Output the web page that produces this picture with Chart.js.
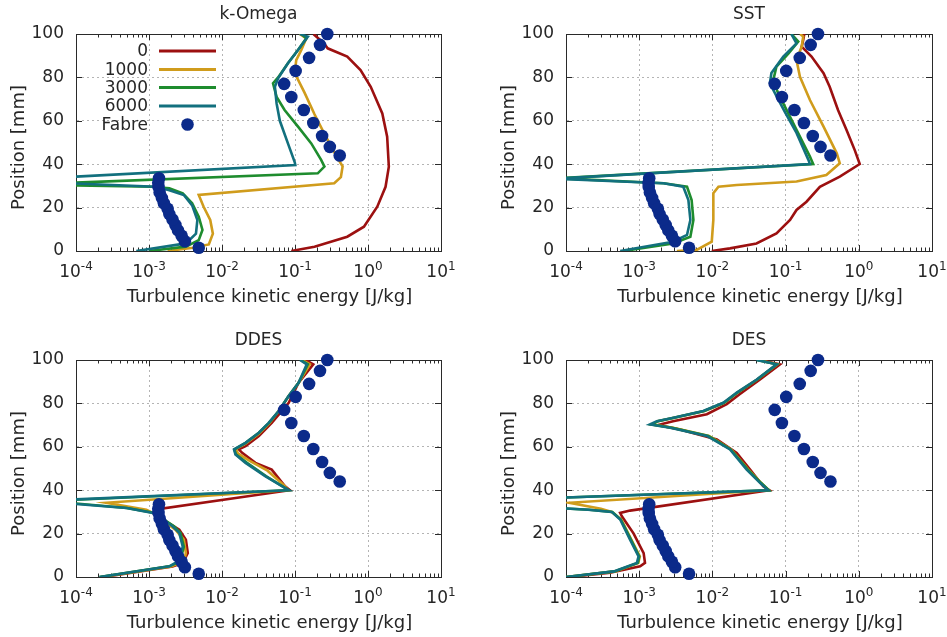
<!DOCTYPE html>
<html><head><meta charset="utf-8">
<script src="https://cdn.jsdelivr.net/npm/chart.js@4.4.1/dist/chart.umd.min.js"></script>
<style>
html,body{margin:0;padding:0;background:#fff;width:947px;height:637px;overflow:hidden}
canvas{position:absolute}
</style></head><body>
<canvas id="c1" width="473" height="318" style="left:0;top:0;width:473px;height:318px"></canvas>
<canvas id="c2" width="474" height="318" style="left:473px;top:0;width:474px;height:318px"></canvas>
<canvas id="c3" width="473" height="319" style="left:0;top:318px;width:473px;height:319px"></canvas>
<canvas id="c4" width="474" height="319" style="left:473px;top:318px;width:474px;height:319px"></canvas>
<script>
// ---------- data ----------
const panelTitles = ["k-Omega", "SST", "DDES", "DES"];
const seriesNames = ["0", "1000", "3000", "6000", "Fabre"];
const xAxisTitle = "Turbulence kinetic energy [J/kg]";
const yAxisTitle = "Position [mm]";
const xTickValues = [1e-4, 1e-3, 1e-2, 1e-1, 1e0, 1e1];
const xTickExponents = ["-4", "-3", "-2", "-1", "0", "1"];
const yTickValues = [0, 20, 40, 60, 80, 100];

// Fabre experiment
const fabreY = [1.5, 4.5, 7, 9.5, 12, 14.5, 17, 19.5, 22, 24.5, 27, 29.5, 31.5, 33.5, 44, 48, 53, 59, 65, 71, 77, 83, 89, 95, 100];
const fabreK = [0.0048, 0.0031, 0.0028, 0.0025, 0.0023, 0.0021, 0.0019, 0.0018, 0.0016, 0.0015, 0.0014, 0.00135, 0.00134, 0.00137, 0.41, 0.30, 0.235, 0.178, 0.132, 0.089, 0.071, 0.102, 0.156, 0.22, 0.277];

// k-Omega
const kwRedY = [0, 2, 6.6, 11.2, 20.4, 29.6, 38.9, 52.7, 63.4, 75.7, 83.4, 89.6, 93.4, 95.7, 99.5, 100];
const kwRedK = [0.089, 0.185, 0.52, 0.88, 1.34, 1.74, 1.93, 1.83, 1.57, 1.09, 0.79, 0.52, 0.28, 0.25, 0.185, 0.19];
const kwGoldY = [0, 1.5, 3, 8, 14.3, 20.4, 25.8, 31.2, 34, 39, 42.7, 54, 63, 73, 82, 88, 92.6, 98, 100];
const kwGoldK = [0.0018, 0.004, 0.0066, 0.0075, 0.0069, 0.0056, 0.0048, 0.345, 0.425, 0.449, 0.384, 0.253, 0.185, 0.135, 0.099, 0.104, 0.122, 0.143, 0.116];
const kwGreenY = [0, 2, 5, 9.7, 15.8, 22, 26.6, 28.9, 29.6, 30.6, 35.8, 38.9, 42, 49.6, 57.3, 65, 71, 77.3, 80, 86.5, 92.6, 98, 100];
const kwGreenK = [0.001, 0.0032, 0.0048, 0.0054, 0.0048, 0.0039, 0.0029, 0.0019, 0.00112, 0.00002, 0.205, 0.253, 0.228, 0.167, 0.11, 0.072, 0.056, 0.050, 0.0587, 0.080, 0.11, 0.143, 0.122];
const kwTealY = [0, 3.5, 8, 14.3, 21, 25.8, 28, 29.6, 32.5, 39.6, 41, 49.6, 60, 68, 75.7, 79.6, 86.5, 92.6, 98.8, 100];
const kwTealK = [0.00067, 0.0032, 0.0044, 0.0046, 0.0039, 0.003, 0.0019, 0.00124, 0.00001, 0.101, 0.099, 0.080, 0.062, 0.056, 0.053, 0.0587, 0.080, 0.11, 0.15, 0.116];

// SST
const sstRedY = [0, 1.2, 3.5, 8.1, 14.3, 18.9, 22.7, 29.6, 34.3, 40.1, 46.5, 55.8, 65, 75.7, 81.9, 89.6, 94.2, 97.2, 100];
const sstRedK = [0.0098, 0.0174, 0.040, 0.075, 0.115, 0.141, 0.193, 0.294, 0.55, 1.03, 0.88, 0.68, 0.52, 0.40, 0.33, 0.226, 0.166, 0.174, 0.18];
const sstGoldY = [0, 0.5, 4.3, 14.3, 26.6, 29.6, 30.4, 32, 35, 40.4, 45, 57.3, 69.6, 80.3, 88, 94.2, 98.8, 100];
const sstGoldK = [0.00327, 0.0061, 0.0098, 0.0103, 0.0103, 0.0121, 0.0215, 0.141, 0.36, 0.55, 0.50, 0.33, 0.215, 0.157, 0.141, 0.166, 0.174, 0.158];
const sstGreenY = [0, 3.5, 6.6, 14.3, 23.5, 29.6, 31.2, 33.5, 40.1, 43.5, 55.8, 65, 72.7, 78.8, 85, 91, 96.5, 100];
const sstGreenK = [0.00061, 0.0029, 0.005, 0.0055, 0.0052, 0.0045, 0.00215, 0.00008, 0.238, 0.215, 0.141, 0.103, 0.079, 0.068, 0.075, 0.109, 0.149, 0.12];
const sstTealY = [0, 4.3, 7.4, 14.3, 23.5, 29.6, 31.2, 33.3, 40.1, 42, 54.4, 64, 71, 77.3, 82, 89.6, 95.7, 100];
const sstTealK = [0.00055, 0.0029, 0.0045, 0.005, 0.0047, 0.004, 0.00215, 0.00007, 0.215, 0.205, 0.141, 0.098, 0.076, 0.061, 0.064, 0.093, 0.141, 0.12];

// DDES
const ddesRedY = [0, 4.9, 6.5, 11, 17.2, 21.8, 25.7, 29.5, 31.4, 40, 41.8, 49.5, 52.6, 57.2, 58.8, 60.3, 65, 71, 80.3, 89.5, 98, 100];
const ddesRedK = [0.00024, 0.0021, 0.0029, 0.0034, 0.0032, 0.0026, 0.0017, 0.0014, 0.0014, 0.085, 0.073, 0.048, 0.0287, 0.0189, 0.017, 0.021, 0.032, 0.048, 0.082, 0.112, 0.178, 0.14];
const ddesGoldY = [0, 4.9, 7.2, 11, 17.2, 21.8, 25.7, 28.8, 31, 34.2, 40, 42, 49, 53.5, 57, 59, 61.5, 66, 71, 77, 83.4, 89.5, 98, 100];
const ddesGoldK = [0.00022, 0.002, 0.003, 0.0032, 0.003, 0.0023, 0.0016, 0.00125, 0.00092, 0.00026, 0.08, 0.072, 0.042, 0.024, 0.0165, 0.0155, 0.021, 0.032, 0.045, 0.061, 0.082, 0.112, 0.16, 0.125];
const ddesGreenY = [0, 4.9, 6.5, 8, 14, 20.3, 23.4, 26.5, 29.5, 31.8, 35, 40, 46.5, 52.6, 56.5, 58.8, 61.8, 66.5, 71, 76.5, 83.4, 89.5, 98, 100];
const ddesGreenK = [0.00021, 0.0019, 0.0024, 0.0027, 0.003, 0.0027, 0.0022, 0.0016, 0.0012, 0.0005, 0.00004, 0.082, 0.04, 0.022, 0.0155, 0.0148, 0.021, 0.032, 0.044, 0.06, 0.082, 0.112, 0.15, 0.12];
const ddesTealY = [0, 4.9, 6.5, 8, 14, 20.3, 23.4, 26.5, 29.5, 31.8, 35, 40, 46.5, 52.6, 56.5, 58.8, 61.8, 66.5, 71, 76.5, 83.4, 89.5, 98, 100];
const ddesTealK = [0.00021, 0.0019, 0.0023, 0.0026, 0.0029, 0.0026, 0.0021, 0.00155, 0.00113, 0.00049, 0.00003, 0.082, 0.039, 0.021, 0.0153, 0.0146, 0.021, 0.032, 0.0436, 0.0598, 0.0817, 0.112, 0.145, 0.117];

// DES
const desRedY = [0, 2, 4.9, 6.5, 11, 20, 28, 29.5, 30.6, 40, 41.8, 49.5, 57.2, 63.4, 68, 70, 71.8, 75, 79.7, 84.3, 91, 98, 100];
const desRedK = [0.000114, 0.0004, 0.00103, 0.0012, 0.00115, 0.00084, 0.00058, 0.00055, 0.00075, 0.06, 0.0495, 0.0327, 0.0215, 0.0115, 0.0036, 0.0018, 0.0029, 0.0084, 0.0157, 0.0238, 0.0447, 0.0837, 0.045];
const desGoldY = [0, 2.6, 6.5, 9.5, 17.2, 26.5, 30, 31.5, 34.2, 40, 43.4, 49.5, 58.8, 65, 68.8, 70.3, 71.8, 73.4, 76.5, 80.3, 85, 91, 98, 100];
const desGoldK = [0.0001, 0.00047, 0.00097, 0.00102, 0.00078, 0.00057, 0.00042, 0.0003, 0.00011, 0.059, 0.046, 0.031, 0.018, 0.009, 0.0029, 0.0015, 0.0018, 0.003, 0.0078, 0.0145, 0.022, 0.041, 0.077, 0.042];
const desGreenY = [0, 2.6, 6.5, 9.5, 17.2, 26.5, 30, 31, 32.5, 36, 40, 43.4, 49.5, 58.8, 65, 68.8, 70.3, 71.8, 73.4, 76.5, 80.3, 85, 91, 98, 100];
const desGreenK = [0.0001, 0.00046, 0.00096, 0.001, 0.00077, 0.00056, 0.00043, 0.00021, 0.00003, 0.00003, 0.059, 0.046, 0.0305, 0.0178, 0.0088, 0.0028, 0.0015, 0.0018, 0.003, 0.0077, 0.0144, 0.022, 0.041, 0.076, 0.041];
const desTealY = [0, 2.6, 6.5, 9.5, 17.2, 26.5, 30, 31, 32.5, 36, 40, 43.4, 49.5, 58.8, 65, 68.8, 70.3, 71.8, 73.4, 76.5, 80.3, 85, 91, 98, 100];
const desTealK = [0.0001, 0.00045, 0.00093, 0.00098, 0.00075, 0.00055, 0.00042, 0.0002, 0.00003, 0.00003, 0.058, 0.0447, 0.0294, 0.0174, 0.0084, 0.00265, 0.0014, 0.00174, 0.00294, 0.0075, 0.0141, 0.0215, 0.0403, 0.0753, 0.04];

// ---------- styling ----------
const COLORS = ["#9c1010", "#d09c1c", "#1e8c2e", "#12707e", "#0b2a8a"];
const FONT = '"DejaVu Sans", Verdana, sans-serif';
const FS = 17;
const FT = 18;
const TEXT = "#262626";
const FRAME = "#2a2a2a";

function pts(k, y) { return k.map((v, i) => ({ x: v, y: y[i] })); }

function decor(title, showLegend) {
  return {
    id: 'decor',
    beforeDatasetsDraw(chart) {
      const ctx = chart.ctx, a = chart.chartArea, xs = chart.scales.x, ys = chart.scales.y;
      ctx.save();
      ctx.strokeStyle = FRAME; ctx.lineWidth = 1;
      ctx.strokeRect(Math.round(a.left) + 0.5, Math.round(a.top) + 0.5, Math.round(a.right - a.left), Math.round(a.bottom - a.top));
      ctx.beginPath();
      for (let d = -4; d <= 1; d++) {
        const base = Math.pow(10, d);
        const px = Math.round(xs.getPixelForValue(base)) + 0.5;
        ctx.moveTo(px, a.bottom); ctx.lineTo(px, a.bottom - 6);
        ctx.moveTo(px, a.top); ctx.lineTo(px, a.top + 6);
        if (d < 1) {
          for (let m = 2; m <= 9; m++) {
            const mx = Math.round(xs.getPixelForValue(base * m)) + 0.5;
            ctx.moveTo(mx, a.bottom); ctx.lineTo(mx, a.bottom - 3.5);
            ctx.moveTo(mx, a.top); ctx.lineTo(mx, a.top + 3.5);
          }
        }
      }
      yTickValues.forEach(v => {
        const py = Math.round(ys.getPixelForValue(v)) + 0.5;
        ctx.moveTo(a.left, py); ctx.lineTo(a.left + 6, py);
        ctx.moveTo(a.right, py); ctx.lineTo(a.right - 6, py);
      });
      ctx.stroke();
      ctx.restore();
    },
    afterDraw(chart) {
      const ctx = chart.ctx, a = chart.chartArea, xs = chart.scales.x;
      ctx.save();
      ctx.fillStyle = TEXT;
      // title
      ctx.font = FS + 'px ' + FONT; ctx.textAlign = 'center'; ctx.textBaseline = 'middle';
      ctx.fillText(title, (a.left + a.right) / 2, a.top - 19);
      // axis titles
      ctx.font = FT + 'px ' + FONT;
      ctx.fillText(xAxisTitle, (a.left + a.right) / 2 + 11, a.bottom + 46);
      ctx.save();
      ctx.translate(a.left - 56.5, (a.top + a.bottom) / 2 + 5);
      ctx.rotate(-Math.PI / 2);
      ctx.fillText(yAxisTitle, 0, 0);
      ctx.restore();
      // x tick labels with superscripts
      ctx.textBaseline = 'alphabetic'; ctx.textAlign = 'left';
      xTickValues.forEach((v, i) => {
        const px = xs.getPixelForValue(v);
        ctx.font = FS + 'px ' + FONT; const w1 = ctx.measureText('10').width;
        ctx.font = '12px ' + FONT; const w2 = ctx.measureText(xTickExponents[i]).width;
        const s = px - (w1 + w2) / 2;
        ctx.font = FS + 'px ' + FONT; ctx.fillText('10', s, a.bottom + 25.5);
        ctx.font = '12px ' + FONT; ctx.fillText(xTickExponents[i], s + w1, a.bottom + 18.5);
      });
      if (showLegend) {
        const rows = [a.top + 17, a.top + 35.5, a.top + 53.5, a.top + 72, a.top + 90.5];
        ctx.font = FS + 'px ' + FONT; ctx.textAlign = 'right'; ctx.textBaseline = 'middle';
        seriesNames.forEach((n, i) => {
          ctx.fillStyle = TEXT;
          ctx.fillText(n, a.left + 72, rows[i] + 1);
          if (i < 4) {
            ctx.strokeStyle = COLORS[i]; ctx.lineWidth = 3;
            ctx.beginPath(); ctx.moveTo(a.left + 83, rows[i]); ctx.lineTo(a.left + 140, rows[i]); ctx.stroke();
          } else {
            ctx.fillStyle = COLORS[4];
            ctx.beginPath(); ctx.arc(a.left + 111.5, rows[i], 6.3, 0, Math.PI * 2); ctx.fill();
          }
        });
      }
      ctx.restore();
    }
  };
}

function makeChart(id, title, lines, o, showLegend) {
  const ds = lines.map((l, i) => ({
    label: seriesNames[i], data: pts(l[0], l[1]), showLine: true, borderColor: COLORS[i],
    backgroundColor: COLORS[i], borderWidth: 2.6, pointRadius: 0, tension: 0, order: 5 - i
  }));
  ds.push({ label: 'Fabre', data: pts(fabreK, fabreY), showLine: false, pointRadius: 6.3,
    pointBorderWidth: 0, backgroundColor: COLORS[4], borderColor: COLORS[4], order: 0, clip: false });
  return new Chart(document.getElementById(id), {
    type: 'scatter',
    data: { datasets: ds },
    options: {
      responsive: false, animation: false, devicePixelRatio: 1,
      layout: { padding: { top: o.padTop, right: o.padRight, left: 0, bottom: 0 } },
      plugins: { legend: { display: false }, tooltip: { enabled: false }, title: { display: false } },
      scales: {
        x: {
          type: 'logarithmic', min: 1e-4, max: 10,
          afterBuildTicks(s) { s.ticks = xTickValues.map(v => ({ value: v })); },
          afterFit(s) { s.height = o.xHeight; },
          ticks: { display: false },
          grid: { color: '#b4b4b4', lineWidth: 1, drawTicks: false },
          border: { display: true, color: FRAME, dash: [2, 3] },
          title: { display: false }
        },
        y: {
          min: 0, max: 100,
          afterBuildTicks(s) { s.ticks = yTickValues.map(v => ({ value: v })); },
          afterFit(s) { s.width = o.yWidth; },
          ticks: { color: TEXT, font: { family: FONT, size: FS }, padding: 12 },
          grid: { color: '#b4b4b4', lineWidth: 1, drawTicks: false },
          border: { display: true, color: FRAME, dash: [2, 3] },
          title: { display: false }
        }
      }
    },
    plugins: [decor(title, showLegend)]
  });
}

makeChart('c1', panelTitles[0], [[kwRedK, kwRedY], [kwGoldK, kwGoldY], [kwGreenK, kwGreenY], [kwTealK, kwTealY]],
  { padTop: 34, padRight: 32, yWidth: 76, xHeight: 67 }, true);
makeChart('c2', panelTitles[1], [[sstRedK, sstRedY], [sstGoldK, sstGoldY], [sstGreenK, sstGreenY], [sstTealK, sstTealY]],
  { padTop: 34, padRight: 15, yWidth: 93, xHeight: 67 }, false);
makeChart('c3', panelTitles[2], [[ddesRedK, ddesRedY], [ddesGoldK, ddesGoldY], [ddesGreenK, ddesGreenY], [ddesTealK, ddesTealY]],
  { padTop: 42, padRight: 32, yWidth: 76, xHeight: 60 }, false);
makeChart('c4', panelTitles[3], [[desRedK, desRedY], [desGoldK, desGoldY], [desGreenK, desGreenY], [desTealK, desTealY]],
  { padTop: 42, padRight: 15, yWidth: 93, xHeight: 60 }, false);
</script>
</body></html>
